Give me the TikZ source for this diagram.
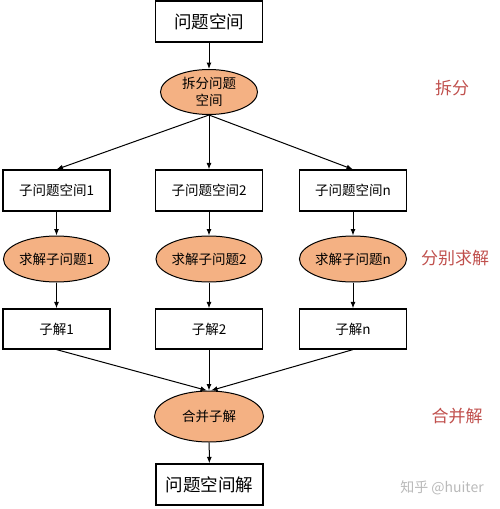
\documentclass[tikz,border=0pt]{standalone}
\usepackage{fontspec}
\setmainfont{Noto Sans CJK SC}
\usetikzlibrary{shapes.geometric,arrows.meta}
\definecolor{peach}{RGB}{244,177,131}
\definecolor{labred}{RGB}{192,80,77}
\definecolor{wm}{RGB}{185,185,185}
\begin{document}
\begin{tikzpicture}[x=1pt,y=-1pt,
  box/.style={draw,line width=1.2pt,minimum width=107pt,minimum height=41pt,inner sep=0pt,font=\fontsize{13.5}{15}\selectfont},
  bigbox/.style={box,font=\fontsize{17.5}{20}\selectfont},
  oval/.style={ellipse,draw,line width=1pt,fill=peach,minimum width=98pt,minimum height=46pt,inner sep=0pt,font=\fontsize{13.5}{17}\selectfont,align=center},
  lab/.style={text=labred,font=\fontsize{17}{20}\selectfont},
  arr/.style={-{Latex[length=6.5pt,width=5pt]},line width=1pt}]
\useasboundingbox (0,0) rectangle (500,509);
\node[bigbox] (top) at (209,21.5) {问题空间};
\node[oval,minimum width=97pt,minimum height=45pt] (e1) at (209,92) {拆分问题\\空间};
\node[box] (b1) at (56.5,190.5) {子问题空间1};
\node[box] (b2) at (209,190.5) {子问题空间2};
\node[box] (b3) at (353,190.5) {子问题空间n};
\node[oval] (s1) at (56.5,259) {求解子问题1};
\node[oval] (s2) at (209,259) {求解子问题2};
\node[oval] (s3) at (353,259) {求解子问题n};
\node[box,minimum height=40pt] (r1) at (56.5,329) {子解1};
\node[box,minimum height=40pt] (r2) at (209,329) {子解2};
\node[box,minimum height=40pt] (r3) at (353,329) {子解n};
\node[oval,minimum width=109pt,minimum height=51pt] (m) at (209,416.5) {合并子解};
\node[bigbox] (f) at (209.5,484.5) {问题空间解};
\node[lab] (l1) at (452,88) {拆分};
\node[lab] (l2) at (455,258) {分别求解};
\node[lab] (l3) at (457,416) {合并解};
\node[text=wm,font=\fontsize{14}{16}\selectfont] (w) at (442,488) {知乎 @huiter};
\draw[arr] (top) -- (e1);
\draw[arr] (e1.south) -- (b1.north);
\draw[arr] (e1.south) -- (b2.north);
\draw[arr] (e1.south) -- (b3.north);
\foreach \i in {1,2,3}{
  \draw[arr] (b\i) -- (s\i);
  \draw[arr] (s\i) -- (r\i);
}
\draw[arr] (r1.south) -- ([xshift=-2pt]m.north);
\draw[arr] (r2.south) -- (m.north);
\draw[arr] (r3.south) -- ([xshift=2pt]m.north);
\draw[arr] (m) -- (f);
\end{tikzpicture}
\end{document}
